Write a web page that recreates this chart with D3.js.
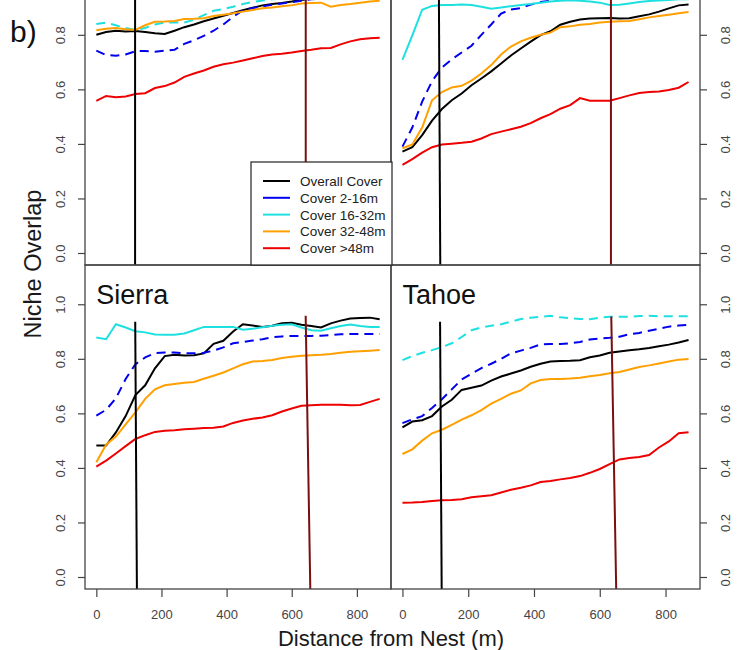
<!DOCTYPE html>
<html>
<head>
<meta charset="utf-8">
<script src="https://cdnjs.cloudflare.com/ajax/libs/d3/7.8.5/d3.min.js"></script>
<style>
  body { margin: 0; background: #fff; }
  svg { display: block; font-family: "Liberation Sans", Arial, sans-serif; }
</style>
</head>
<body>
<div id="chart"></div>
<script>
// distance from nest (m)
var dist = [0,30,60,90,120,150,180,210,240,270,300,330,360,390,420,450,480,510,540,570,600,630,660,690,720,750,780,810,840,870];

var seriesNames = ["Overall Cover","Cover 2-16m","Cover 16-32m","Cover 32-48m","Cover >48m"];
var panelTitles = ["", "", "Sierra", "Tahoe"];
var yTicks = [0, 0.2, 0.4, 0.6, 0.8, 1.0];
var xTicks = [0, 200, 400, 600, 800];

// top left panel
var tlOverall = [0.800,0.810,0.815,0.812,0.814,0.810,0.806,0.803,0.815,0.828,0.838,0.850,0.860,0.870,0.880,0.890,0.899,0.908,0.913,0.917,0.922,0.928,0.932,0.936,0.940,0.943,0.946,0.948,0.950,0.950];
var tl2_16 = [0.742,0.726,0.723,0.728,0.740,0.741,0.738,0.742,0.745,0.767,0.780,0.796,0.815,0.838,0.866,0.890,0.898,0.904,0.910,0.915,0.920,0.925,0.930,0.932,0.935,0.937,0.940,0.942,0.944,0.945];
var tl16_32 = [0.840,0.845,0.835,0.825,0.818,0.825,0.838,0.845,0.845,0.845,0.855,0.872,0.888,0.895,0.903,0.913,0.920,0.926,0.930,0.933,0.936,0.938,0.940,0.940,0.942,0.944,0.945,0.946,0.947,0.948];
var tl32_48 = [0.817,0.822,0.825,0.820,0.818,0.835,0.848,0.849,0.851,0.858,0.859,0.861,0.869,0.874,0.879,0.885,0.891,0.897,0.900,0.905,0.908,0.915,0.917,0.918,0.903,0.909,0.913,0.918,0.922,0.925];
var tl48 = [0.558,0.576,0.571,0.574,0.583,0.586,0.605,0.612,0.625,0.646,0.658,0.669,0.683,0.692,0.698,0.706,0.714,0.722,0.728,0.731,0.735,0.741,0.745,0.751,0.752,0.765,0.776,0.784,0.787,0.789];

// top right panel
var trOverall = [0.372,0.388,0.432,0.485,0.528,0.560,0.585,0.615,0.640,0.666,0.695,0.724,0.750,0.775,0.799,0.813,0.837,0.848,0.856,0.860,0.861,0.862,0.860,0.861,0.868,0.875,0.885,0.897,0.908,0.911];
var tr2_16 = [0.390,0.460,0.555,0.630,0.680,0.710,0.735,0.760,0.800,0.838,0.878,0.893,0.898,0.911,0.920,0.925,0.930,0.932,0.935,0.937,0.940,0.940,0.942,0.944,0.946,0.948,0.950,0.950,0.952,0.953];
var tr16_32 = [0.708,0.798,0.892,0.906,0.909,0.909,0.911,0.909,0.903,0.896,0.900,0.905,0.909,0.913,0.918,0.922,0.925,0.927,0.925,0.922,0.918,0.909,0.910,0.915,0.920,0.924,0.926,0.928,0.930,0.930];
var tr32_48 = [0.384,0.398,0.460,0.560,0.590,0.607,0.613,0.632,0.658,0.689,0.728,0.757,0.776,0.789,0.800,0.808,0.828,0.831,0.837,0.840,0.845,0.848,0.850,0.851,0.857,0.864,0.869,0.874,0.879,0.884];
var tr48 = [0.323,0.344,0.368,0.388,0.398,0.401,0.404,0.408,0.420,0.436,0.445,0.454,0.463,0.476,0.494,0.509,0.529,0.542,0.568,0.558,0.558,0.558,0.568,0.578,0.587,0.590,0.592,0.598,0.606,0.627];

// Sierra
var siOverall = [0.482,0.482,0.530,0.590,0.667,0.703,0.765,0.810,0.815,0.812,0.813,0.820,0.855,0.866,0.900,0.927,0.922,0.917,0.921,0.930,0.932,0.925,0.920,0.915,0.930,0.940,0.948,0.950,0.951,0.945];
var si2_16 = [0.592,0.613,0.655,0.726,0.780,0.805,0.821,0.823,0.823,0.820,0.820,0.822,0.830,0.842,0.857,0.862,0.867,0.872,0.879,0.882,0.884,0.884,0.884,0.885,0.887,0.890,0.891,0.891,0.891,0.891];
var si16_32 = [0.878,0.872,0.927,0.915,0.901,0.897,0.889,0.888,0.888,0.893,0.905,0.917,0.917,0.917,0.917,0.907,0.910,0.916,0.921,0.925,0.927,0.915,0.905,0.903,0.912,0.920,0.926,0.920,0.917,0.917];
var si32_48 = [0.421,0.485,0.515,0.560,0.604,0.653,0.688,0.703,0.708,0.712,0.715,0.727,0.738,0.750,0.765,0.780,0.790,0.792,0.796,0.803,0.808,0.811,0.813,0.815,0.818,0.822,0.826,0.828,0.830,0.832];
var si48 = [0.405,0.427,0.453,0.480,0.506,0.520,0.532,0.536,0.538,0.542,0.544,0.546,0.547,0.552,0.565,0.574,0.580,0.585,0.593,0.607,0.618,0.628,0.630,0.632,0.632,0.632,0.630,0.631,0.642,0.653];

// Tahoe
var taOverall = [0.549,0.570,0.575,0.590,0.625,0.650,0.686,0.694,0.702,0.720,0.735,0.746,0.757,0.771,0.782,0.790,0.792,0.793,0.795,0.806,0.812,0.822,0.827,0.831,0.835,0.840,0.846,0.852,0.860,0.869];
var ta2_16 = [0.564,0.578,0.590,0.620,0.652,0.688,0.724,0.745,0.766,0.782,0.800,0.820,0.830,0.840,0.853,0.854,0.854,0.857,0.862,0.871,0.874,0.877,0.881,0.890,0.895,0.903,0.910,0.918,0.922,0.925];
var ta16_32 = [0.795,0.810,0.822,0.832,0.843,0.857,0.880,0.905,0.915,0.921,0.927,0.936,0.946,0.951,0.954,0.958,0.952,0.949,0.946,0.945,0.951,0.954,0.954,0.954,0.957,0.958,0.956,0.956,0.956,0.956];
var ta32_48 = [0.451,0.468,0.500,0.527,0.540,0.558,0.577,0.593,0.612,0.636,0.653,0.672,0.684,0.710,0.722,0.726,0.726,0.728,0.731,0.736,0.741,0.747,0.752,0.761,0.770,0.776,0.783,0.790,0.797,0.799];
var ta48 = [0.272,0.273,0.275,0.279,0.281,0.282,0.285,0.292,0.296,0.300,0.310,0.320,0.327,0.336,0.348,0.352,0.358,0.363,0.370,0.382,0.396,0.414,0.431,0.436,0.440,0.447,0.475,0.497,0.527,0.531];

// vertical reference lines: distance at top, distance at bottom, value where line starts
var blackRef = [[119,119,1.2],[110,115,1.2],[119.4,124.6,0.936],[114.4,119.3,0.936]];
var redRef = [[643,643,1.2],[634,634,1.2],[642.8,657,0.958],[635,650,0.955]];

var panelSeries = [
  [tlOverall, tl2_16, tl16_32, tl32_48, tl48],
  [trOverall, tr2_16, tr16_32, tr32_48, tr48],
  [siOverall, si2_16, si16_32, si32_48, si48],
  [taOverall, ta2_16, ta16_32, ta32_48, ta48]
];

// styling
var colors = ["#000000", "#0000ee", "#1fe0e0", "#ffa000", "#ee0000"];
var dashed = [
  [false, true, true, false, false],
  [false, true, false, false, false],
  [false, true, false, false, false],
  [false, true, true, false, false]
];

var W = 744, H = 650;
var colX = [[85, 391], [391, 700]];
var rowY = [[265, -59], [589, 265]];

var svg = d3.select("#chart").append("svg")
  .attr("width", W).attr("height", H);

var xDom = [-34.8, 904.8], yDom = [-0.044, 1.144];

panelSeries.forEach(function(series, p){
  var col = p % 2, row = Math.floor(p / 2);
  var x = d3.scaleLinear().domain(xDom).range(colX[col]);
  var y = d3.scaleLinear().domain(yDom).range(rowY[row]);
  var g = svg.append("g");

  var line = d3.line().x(function(d, i){ return x(dist[i]); }).y(function(d){ return y(d); });

  series.forEach(function(vals, s){
    g.append("path")
      .attr("d", line(vals))
      .attr("fill", "none")
      .attr("stroke", colors[s])
      .attr("stroke-width", 2)
      .attr("stroke-dasharray", dashed[p][s] ? "9,6" : null);
  });

  // reference lines
  [[blackRef[p], "#000"], [redRef[p], "#7a0f0f"]].forEach(function(r){
    var d = r[0];
    g.append("line")
      .attr("x1", x(d[0])).attr("y1", y(Math.min(d[2], yDom[1])))
      .attr("x2", x(d[1])).attr("y2", y(yDom[0]))
      .attr("stroke", r[1]).attr("stroke-width", 2);
  });

  // box
  g.append("rect")
    .attr("x", colX[col][0]).attr("y", rowY[row][1])
    .attr("width", colX[col][1] - colX[col][0])
    .attr("height", rowY[row][0] - rowY[row][1])
    .attr("fill", "none").attr("stroke", "#444").attr("stroke-width", 1.3);

  // y axis: left for left column, right for right column (ticks cut off by the crop are skipped)
  var shown = yTicks.filter(function(v){ return y(v) > 10; });
  var yAxis = (col === 0 ? d3.axisLeft(y) : d3.axisRight(y))
    .tickValues(shown).tickFormat(d3.format(".1f")).tickSize(7).tickPadding(0);
  var ya = g.append("g")
    .attr("transform", "translate(" + colX[col][col === 0 ? 0 : 1] + ",0)")
    .call(yAxis);
  ya.select(".domain").remove();
  ya.selectAll("line").attr("stroke", "#444").attr("stroke-width", 1.2);
  ya.selectAll("text")
    .attr("fill", "#444").style("font-size", "13px")
    .attr("text-anchor", "middle")
    .attr("dy", null)
    .attr("x", null)
    .attr("transform", col === 0 ? "translate(-25.5,0) rotate(-90) translate(0,5)" : "translate(25,0) rotate(-90) translate(0,5)");

  // x axis only on bottom row
  if (row === 1) {
    var xa = g.append("g")
      .attr("transform", "translate(0," + rowY[row][0] + ")")
      .call(d3.axisBottom(x).tickValues(xTicks).tickSize(8).tickPadding(13));
    xa.select(".domain").remove();
    xa.selectAll("line").attr("stroke", "#444").attr("stroke-width", 1.2);
    xa.selectAll("text").attr("fill", "#444").style("font-size", "13px");
  }

  if (panelTitles[p]) {
    g.append("text")
      .attr("x", x(0)).attr("y", y(1.0))
      .style("font-size", "27px").attr("fill", "#111")
      .text(panelTitles[p]);
  }
});

// legend in top left panel, bottom-right corner
var leg = svg.append("g");
leg.append("rect")
  .attr("x", 251).attr("y", 162).attr("width", 141).attr("height", 103)
  .attr("fill", "#fff").attr("stroke", "#222").attr("stroke-width", 1.2);
seriesNames.forEach(function(n, i){
  var yy = 181 + i * 16.8;
  leg.append("line").attr("x1", 263).attr("x2", 290).attr("y1", yy).attr("y2", yy)
    .attr("stroke", colors[i]).attr("stroke-width", 2);
  leg.append("text").attr("x", 300).attr("y", yy + 5)
    .style("font-size", "13.5px").attr("fill", "#222").text(n);
});

// axis titles
svg.append("text")
  .attr("transform", "translate(41,264) rotate(-90)")
  .attr("text-anchor", "middle")
  .style("font-size", "23.5px").attr("fill", "#1a1a1a")
  .text("Niche Overlap");
svg.append("text")
  .attr("x", 391).attr("y", 646)
  .attr("text-anchor", "middle")
  .style("font-size", "22px").attr("fill", "#1a1a1a")
  .text("Distance from Nest (m)");

svg.append("text")
  .attr("x", 10).attr("y", 42)
  .style("font-size", "30px").attr("fill", "#111")
  .text("b)");
</script>
</body>
</html>
